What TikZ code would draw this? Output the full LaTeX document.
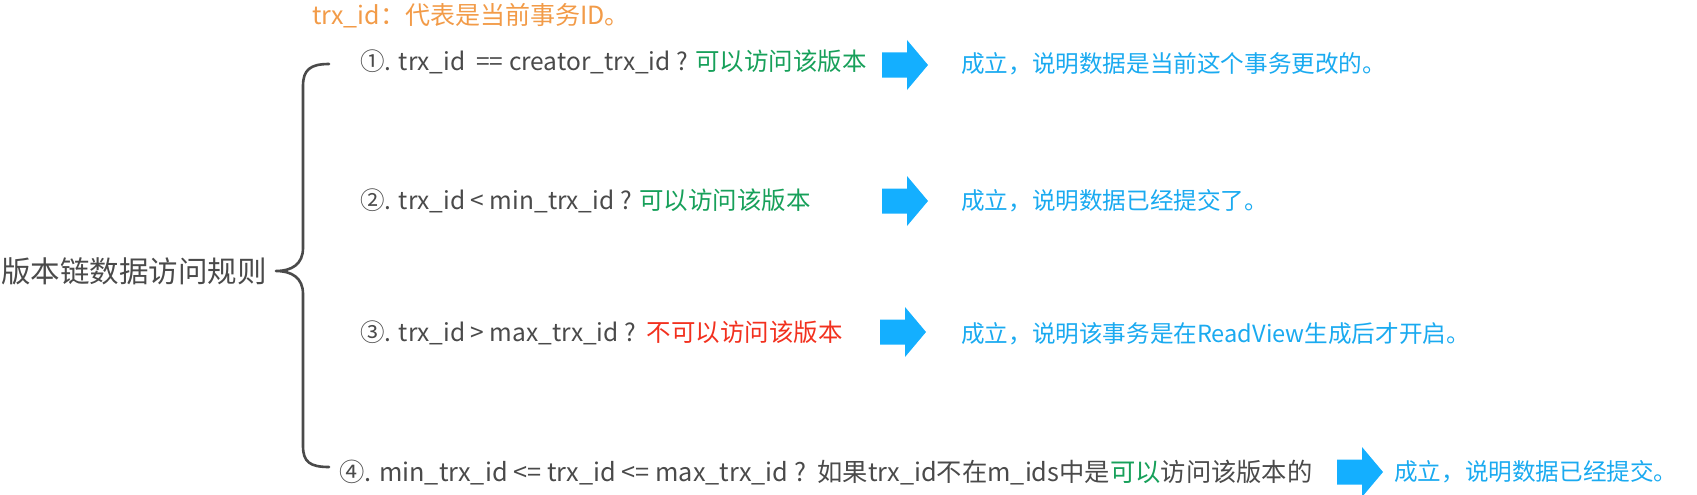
\documentclass[tikz,border=0pt]{standalone}
\usepackage{fontspec}
\setmainfont{Noto Sans CJK SC}
\definecolor{txtgray}{HTML}{4A4A4A}
\definecolor{okgreen}{HTML}{17A05A}
\definecolor{nored}{HTML}{F2301E}
\definecolor{infoblue}{HTML}{1AAAF0}
\definecolor{arrowblue}{HTML}{14AFFF}
\definecolor{hdrorange}{HTML}{F29B48}
\begin{document}
\begin{tikzpicture}[x=1pt,y=-1pt,
  rule/.style={anchor=west,inner sep=0pt,text=txtgray,font=\fontsize{24.5}{28}\selectfont},
  info/.style={anchor=west,inner sep=0pt,text=infoblue,font=\fontsize{23.6}{26}\selectfont},
  bracepath/.style={draw=txtgray,line width=2.6pt,line cap=round,line join=round},
  barrow/.pic={\fill[arrowblue] (0,-12.5) -- (25,-12.5) -- (25,-25) -- (46,0) -- (25,25) -- (25,12.5) -- (0,12.5) -- cycle;}]
\useasboundingbox (0,0) rectangle (1697,495);

% header
\node[anchor=west,inner sep=0pt,text=hdrorange,font=\fontsize{25}{28}\selectfont] (hdr) at (312,16) {trx\_id：代表是当前事务ID。};

% left label
\node[anchor=west,inner sep=0pt,text=txtgray,font=\fontsize{29.5}{32}\selectfont] (root) at (1,271) {版本链数据访问规则};

% brace
\coordinate (btop) at (329,64);
\coordinate (btip) at (276,271);
\coordinate (bbot) at (329,467);
\draw[bracepath] (btop) .. controls (310,64) and (303,70) .. (303,86)
  -- (303,248) .. controls (303,264) and (292,271) .. (btip)
  .. controls (292,271) and (303,278) .. (303,294)
  -- (303,446) .. controls (303,462) and (310,467) .. (bbot);

% rules
\node[rule] (r1) at (360,62) {①. trx\_id\ \ == creator\_trx\_id ? {\color{okgreen}可以访问该版本}};
\node[rule] (r2) at (360,201) {②. trx\_id < min\_trx\_id ? {\color{okgreen}可以访问该版本}};
\node[rule] (r3) at (360,333) {③. trx\_id > max\_trx\_id ?\ \ {\color{nored}不可以访问该版本}};
\node[rule,font=\fontsize{25.3}{28}\selectfont] (r4) at (339,473) {④. min\_trx\_id <= trx\_id <= max\_trx\_id ?\ \ 如果trx\_id不在m\_ids中是{\color{okgreen}可以}访问该版本的};

% arrows
\pic at (882,65) {barrow};
\pic at (882,201) {barrow};
\pic at (880,332) {barrow};
\pic at (1337,472) {barrow};

% results
\node[info] (c1) at (961,64) {成立，说明数据是当前这个事务更改的。};
\node[info] (c2) at (961,201) {成立，说明数据已经提交了。};
\node[info] (c3) at (961,334) {成立，说明该事务是在ReadView生成后才开启。};
\node[info] (c4) at (1394,472) {成立，说明数据已经提交。};
\end{tikzpicture}
\end{document}
